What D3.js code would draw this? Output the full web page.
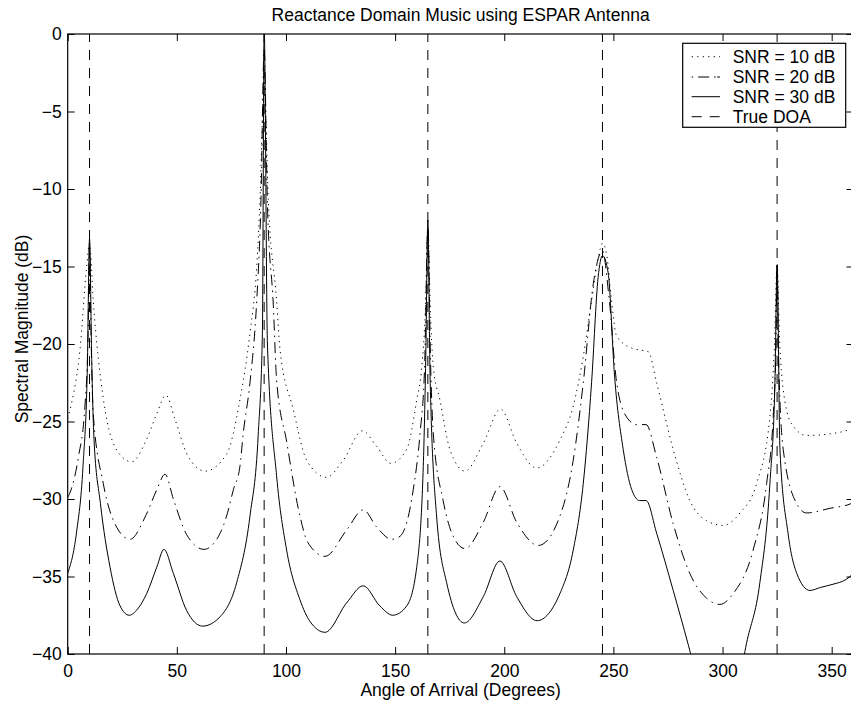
<!DOCTYPE html>
<html>
<head>
<meta charset="utf-8">
<script src="https://cdn.jsdelivr.net/npm/d3@7"></script>
<style>
  html, body { margin: 0; padding: 0; background: #fff; }
  svg { display: block; }
  text { font-family: "Liberation Sans", Arial, Helvetica, sans-serif; fill: #000; }
</style>
</head>
<body>
<svg id="chart" width="851" height="703"></svg>
<script>
// ---------- data ----------
const titleText = "Reactance Domain Music using ESPAR Antenna";
const xLabelText = "Angle of Arrival (Degrees)";
const yLabelText = "Spectral Magnitude (dB)";
const xTicks = [0, 50, 100, 150, 200, 250, 300, 350];
const yTicks = [0, -5, -10, -15, -20, -25, -30, -35, -40];
const doaAngles = [10, 90, 165, 245, 325];
const legendLabels = ["SNR = 10 dB", "SNR = 20 dB", "SNR = 30 dB", "True DOA"];

// SNR = 10 dB (dotted)
const snr10Angles = [0, 1.8, 5.6, 8.7, 10, 11.7, 16.3, 23.2, 29.3, 36, 40.8, 45, 49, 55, 62.9,
  72.8, 78.9, 83.5, 86.6, 88.1, 90, 91.9, 95.7, 97.3, 103.3, 109.5, 118.5, 126.2, 135, 141.5, 148,
  155.3, 159.9, 162.2, 163.8, 165, 166.2, 167.5, 170.5, 175.1, 182, 190.4, 198.3, 205.7, 214.8,
  225.5, 231.6, 236.2, 240, 243, 245, 247, 249, 251.5, 259.1, 263, 266, 269.8, 277.4, 285, 292.7,
  300.3, 308, 315.6, 321.7, 323.8, 325, 326.2, 329.4, 332.4, 338.5, 349, 358.4, 360];
const snr10Values = [-24.8, -23.8, -20.4, -15.0, -13.5, -17.2, -23.5, -27.0, -27.6, -26.2, -24.5, -23.3, -24.8, -27.2, -28.2,
  -27.1, -23.6, -19.3, -15.0, -10.7, -3.0, -10.7, -17.2, -20.4, -24.2, -27.5, -28.6, -27.5, -25.6, -26.6, -27.7,
  -26.8, -23.6, -21.5, -18.0, -12.5, -18.0, -21.5, -23.6, -26.8, -28.2, -26.4, -24.2, -26.4, -28.0,
  -26.2, -24.0, -20.8, -17.2, -14.5, -13.5, -14.3, -17.0, -19.5, -20.3, -20.4, -20.5, -22.5, -26.8, -30.1, -31.4,
  -31.7, -30.9, -29.0, -24.7, -20.0, -14.8, -20.0, -24.3, -25.3, -25.9, -25.8, -25.5, -25.4];

// SNR = 20 dB (dash-dot)
const snr20Angles = [0, 1.8, 4.9, 7.9, 9.3, 10, 10.7, 11.7, 16.3, 23.2, 28.5, 36, 40.8, 44.6, 48.4, 54.5, 62.4,
  66.7, 72.8, 75.9, 78.9, 80.4, 83.5, 86.6, 88.5, 90, 91.5, 94.2, 95.7, 100.3, 106.4, 110, 117.9,
  127.8, 135.4, 141.5, 148.4, 152.3, 158.3, 161.4, 163.5, 165, 166.3, 167.5, 172, 176.6, 182,
  190.4, 198, 205.7, 215.6, 225.5, 231.6, 236.2, 240.8, 245, 248, 251.5, 256, 260.6, 265, 269.8,
  277.4, 285, 292.7, 298.8, 304.9, 314, 320.2, 323.2, 324.5, 325, 325.5, 327.8, 334, 338.5, 349.2, 358.8, 360];
const snr20Values = [-29.9, -29.3, -27.3, -24.0, -19.5, -13.5, -19.5, -24.5, -29.0, -32.0, -32.6, -31.0, -29.4, -28.4, -30.0, -32.3, -33.25,
  -32.9, -31.1, -29.4, -27.9, -25.8, -22.5, -17.2, -11.0, -1.0, -11.0, -17.5, -22.3, -26.3, -31.1, -32.8, -33.7,
  -32.0, -30.7, -31.8, -32.6, -32.4, -29.4, -25.8, -21.5, -12.5, -21.5, -25.8, -30.1, -32.4, -33.2,
  -31.5, -29.2, -31.5, -33.0, -31.1, -27.5, -22.5, -16.1, -14.0, -17.0, -22.5, -24.7, -25.2, -25.2, -27.3,
  -31.6, -34.8, -36.4, -36.8, -36.1, -33.3, -29.0, -24.7, -20.0, -14.8, -20.0, -26.8, -30.3, -30.9, -30.6, -30.3, -30.2];

// SNR = 30 dB (solid)
const snr30Angles = [0, 4, 7, 9, 10, 11, 12, 15, 19.4, 24, 28.2, 32, 36.2, 40.8, 44.1, 48.4, 54.5, 61.8,
  69.8, 77.4, 83.5, 87.3, 89.2, 90, 91.5, 95.7, 100.3, 106.4, 111, 117.9, 127.8, 135.4, 143, 148.9,
  155.3, 159.9, 162.9, 164.1, 165, 166, 169, 173.6, 181.7, 190.4, 198, 205.7, 215, 225.5, 231.6,
  236.2, 240, 243, 245, 247.6, 250.5, 254.5, 258.4, 262, 265, 269.8, 277.4, 284.3, 290, 298, 305,
  311, 317.1, 321.7, 324, 325, 326.3, 330, 334, 340, 345, 350.6, 356.5, 360];
const snr30Values = [-34.8, -32.2, -27.9, -21.5, -13.2, -21.0, -26.0, -30.3, -34.4, -36.9, -37.5, -37.1, -36.1, -34.4, -33.25, -34.8, -37.2, -38.2,
  -37.6, -35.4, -31.1, -25.8, -19.3, 0.5, -20.0, -28.5, -33.3, -36.5, -37.9, -38.6, -36.7, -35.6, -36.9, -37.5,
  -36.9, -34.4, -27.9, -20.4, -12.0, -22.0, -31.1, -35.4, -38.0, -36.3, -34.0, -36.3, -37.85, -36.1, -33.3,
  -29.0, -22.5, -15.7, -14.3, -15.4, -22.0, -26.8, -29.4, -30.1, -30.1, -32.2, -35.9, -39.4, -42.5, -44.5, -43.5,
  -39.3, -35.4, -29.0, -22.5, -14.9, -26.8, -32.2, -34.8, -35.9, -35.7, -35.5, -35.2, -34.8];

// ---------- layout ----------
const svg = d3.select("#chart");
const mLeft = 67.7, mRight = 853.5, mTop = 34, mBottom = 654;
const x = d3.scaleLinear().domain([0, 360]).range([mLeft, mRight]);
const y = d3.scaleLinear().domain([-40, 0]).range([mBottom, mTop]);
const fontSize = 17.5;

svg.append("defs").append("clipPath").attr("id", "plotClip")
  .append("rect").attr("x", mLeft).attr("y", mTop)
  .attr("width", mRight - mLeft).attr("height", mBottom - mTop);

// axes
const xAxisB = d3.axisBottom(x).tickValues(xTicks).tickSizeInner(-7).tickSizeOuter(0).tickPadding(11);
const xAxisT = d3.axisTop(x).tickValues(xTicks).tickSizeInner(-7).tickSizeOuter(0).tickFormat("");
const yAxisL = d3.axisLeft(y).tickValues(yTicks).tickSizeInner(-7).tickSizeOuter(0).tickPadding(6)
  .tickFormat(d => d === 0 ? "0" : "\u2212" + Math.abs(d));
const yAxisR = d3.axisRight(y).tickValues(yTicks).tickSizeInner(-7).tickSizeOuter(0).tickFormat("");

function styleAxis(g) {
  g.select(".domain").remove();
  g.selectAll("line").attr("stroke", "#000").attr("stroke-width", 1);
  g.selectAll("text").attr("font-size", fontSize)
    .attr("font-family", "'Liberation Sans', Arial, Helvetica, sans-serif").attr("fill", "#000");
}
svg.append("g").attr("transform", `translate(0,${mBottom})`).call(xAxisB).call(styleAxis);
svg.append("g").attr("transform", `translate(0,${mTop})`).call(xAxisT).call(styleAxis);
svg.append("g").attr("transform", `translate(${mLeft},0)`).call(yAxisL).call(styleAxis);
svg.append("g").attr("transform", `translate(${mRight},0)`).call(yAxisR).call(styleAxis);

// plot lines
const plot = svg.append("g").attr("clip-path", "url(#plotClip)");

plot.selectAll("line.doa").data(doaAngles).join("line")
  .attr("class", "doa")
  .attr("x1", d => x(d)).attr("x2", d => x(d))
  .attr("y1", y(-40)).attr("y2", y(0))
  .attr("stroke", "#000").attr("stroke-width", 1).attr("stroke-dasharray", "10,8");

const line = d3.line().x(d => x(d[0])).y(d => y(d[1])).curve(d3.curveMonotoneX);
const series = [
  { a: snr10Angles, v: snr10Values, dash: "1.2,4.3" },
  { a: snr20Angles, v: snr20Values, dash: "11,5,1.5,5" },
  { a: snr30Angles, v: snr30Values, dash: null }
];
series.forEach(s => {
  plot.append("path")
    .datum(s.a.map((a, i) => [a, s.v[i]]))
    .attr("d", line)
    .attr("fill", "none")
    .attr("stroke", "#000")
    .attr("stroke-width", 1)
    .attr("stroke-dasharray", s.dash);
});

// box
svg.append("rect").attr("x", mLeft).attr("y", mTop)
  .attr("width", mRight - mLeft).attr("height", mBottom - mTop)
  .attr("fill", "none").attr("stroke", "#000").attr("stroke-width", 1.2);

// labels
svg.append("text").attr("x", (mLeft + mRight) / 2).attr("y", 21)
  .attr("text-anchor", "middle").attr("font-size", fontSize).text(titleText);
svg.append("text").attr("x", (mLeft + mRight) / 2).attr("y", 696)
  .attr("text-anchor", "middle").attr("font-size", fontSize).text(xLabelText);
svg.append("text").attr("transform", "translate(28,329) rotate(-90)")
  .attr("text-anchor", "middle").attr("font-size", fontSize).text(yLabelText);

// legend
const lg = svg.append("g");
lg.append("rect").attr("x", 682.7).attr("y", 43.3).attr("width", 163).attr("height", 84)
  .attr("fill", "#fff").attr("stroke", "#000").attr("stroke-width", 1.2);
const legendDash = ["1.2,4.3", "1.5,5,11,5,1.5", null, "10,8"];
const legendY = [56.7, 77, 96.7, 116.7];
legendLabels.forEach((lab, i) => {
  lg.append("line").attr("x1", 691.7).attr("x2", 720)
    .attr("y1", legendY[i]).attr("y2", legendY[i])
    .attr("stroke", "#000").attr("stroke-width", 1)
    .attr("stroke-dasharray", legendDash[i]);
  lg.append("text").attr("x", 732.7).attr("y", legendY[i] + 6)
    .attr("font-size", fontSize).text(lab);
});
</script>
</body>
</html>
